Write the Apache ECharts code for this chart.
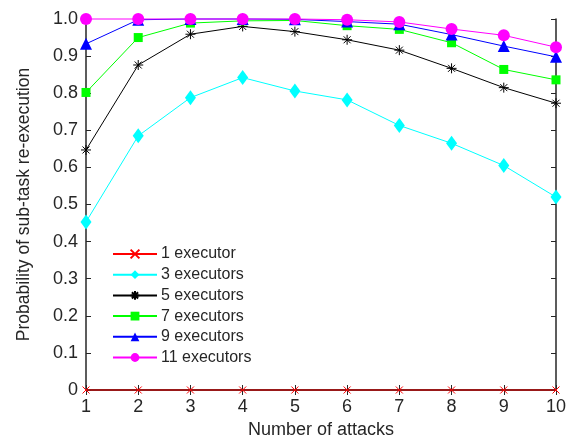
<!DOCTYPE html>
<html>
<head>
<meta charset="utf-8">
<script src="https://cdn.jsdelivr.net/npm/echarts@6/dist/echarts.min.js"></script>
<style>
  html, body { margin: 0; padding: 0; background: #fff; }
  #chart { width: 574px; height: 437px; }
</style>
</head>
<body>
<div id="chart"></div>
<script>
// data
var attacks = [1, 2, 3, 4, 5, 6, 7, 8, 9, 10];
var exec1  = [0, 0, 0, 0, 0, 0, 0, 0, 0, 0];
var exec3  = [0.453, 0.685, 0.788, 0.842, 0.806, 0.782, 0.713, 0.665, 0.605, 0.52];
var exec5  = [0.647, 0.876, 0.959, 0.980, 0.966, 0.944, 0.916, 0.867, 0.815, 0.773];
var exec7  = [0.802, 0.950, 0.989, 0.995, 0.996, 0.982, 0.972, 0.936, 0.864, 0.836];
var exec9  = [0.933, 0.998, 1.0, 1.0, 0.999, 0.993, 0.986, 0.958, 0.927, 0.898];
var exec11 = [1.0, 1.0, 1.0, 1.0, 1.0, 0.998, 0.992, 0.973, 0.956, 0.924];
var seriesNames = ['1 executor', '3 executors', '5 executors', '7 executors', '9 executors', '11 executors'];

var myChart = echarts.init(document.getElementById('chart'));

var axisColor = '#262626';
var font = 'Liberation Sans, Arial, sans-serif';

function pairs(ys) {
  return attacks.map(function (x, i) { return [x, ys[i]]; });
}

var crossPath = 'path://M0,0L10,10M10,0L0,10';
var starPath = 'path://M5,0L5,10M0,5L10,5M1.5,1.5L8.5,8.5M8.5,1.5L1.5,8.5';

function makeSeries(name, ys, color, symbol, size, stroke) {
  return {
    name: name,
    type: 'line',
    data: pairs(ys),
    symbol: symbol,
    symbolSize: size,
    showAllSymbol: true,
    clip: false,
    lineStyle: { color: color, width: 1 },
    itemStyle: {
      color: color,
      borderColor: color,
      borderWidth: stroke ? 1 : 0
    },
    emphasis: { disabled: true }
  };
}

var option = {
  animation: false,
  backgroundColor: '#fff',
  grid: {
    left: 86, right: 18, top: 19, bottom: 47,
    containLabel: false,
    outerBoundsMode: 'none'
  },
  legend: {
    orient: 'vertical',
    left: 112,
    top: 246,
    padding: 0,
    itemWidth: 44,
    itemHeight: 11,
    itemGap: 4.7,
    textStyle: { fontFamily: font, fontSize: 16, color: axisColor, padding: [0, 0, 0, -1] },
    data: seriesNames
  },
  xAxis: [
    {
      type: 'value',
      min: 1,
      max: 10,
      interval: 1,
      name: 'Number of attacks',
      nameLocation: 'middle',
      nameGap: 29,
      nameTextStyle: { fontFamily: font, fontSize: 18, color: axisColor },
      axisLine: { lineStyle: { color: axisColor, width: 1.5 } },
      axisTick: { inside: true, length: 5, lineStyle: { color: axisColor } },
      axisLabel: { fontFamily: font, fontSize: 18, color: axisColor, margin: 8 },
      splitLine: { show: false }
    },
    {
      type: 'value',
      position: 'top',
      min: 1,
      max: 10,
      interval: 1,
      axisLine: { lineStyle: { color: axisColor, width: 1.5 } },
      axisTick: { inside: true, length: 5, lineStyle: { color: axisColor } },
      axisLabel: { show: false },
      splitLine: { show: false }
    }
  ],
  yAxis: [
    {
      type: 'value',
      min: 0,
      max: 1,
      interval: 0.1,
      name: 'Probability of sub-task re-execution',
      nameLocation: 'middle',
      nameGap: 53,
      nameTextStyle: { fontFamily: font, fontSize: 17.5, color: axisColor },
      axisLine: { show: true, lineStyle: { color: axisColor, width: 1.5 } },
      axisTick: { show: true, inside: true, length: 5, lineStyle: { color: axisColor } },
      axisLabel: {
        fontFamily: font, fontSize: 18, color: axisColor, margin: 8,
        formatter: function (v) { return v === 0 ? '0' : v.toFixed(1); }
      },
      splitLine: { show: false }
    },
    {
      type: 'value',
      position: 'right',
      min: 0,
      max: 1,
      interval: 0.1,
      axisLine: { show: true, lineStyle: { color: axisColor, width: 1.5 } },
      axisTick: { show: true, inside: true, length: 5, lineStyle: { color: axisColor } },
      axisLabel: { show: false },
      splitLine: { show: false }
    }
  ],
  series: [
    makeSeries(seriesNames[0], exec1, '#ff0000', crossPath, 7, true),
    makeSeries(seriesNames[1], exec3, '#00ffff', 'diamond', [11, 15], false),
    makeSeries(seriesNames[2], exec5, '#000000', starPath, 10, true),
    makeSeries(seriesNames[3], exec7, '#00ff00', 'rect', 9, false),
    makeSeries(seriesNames[4], exec9, '#0000ff', 'triangle', 12, false),
    makeSeries(seriesNames[5], exec11, '#ff00ff', 'circle', 12, false)
  ]
};

myChart.setOption(option);
</script>
</body>
</html>
